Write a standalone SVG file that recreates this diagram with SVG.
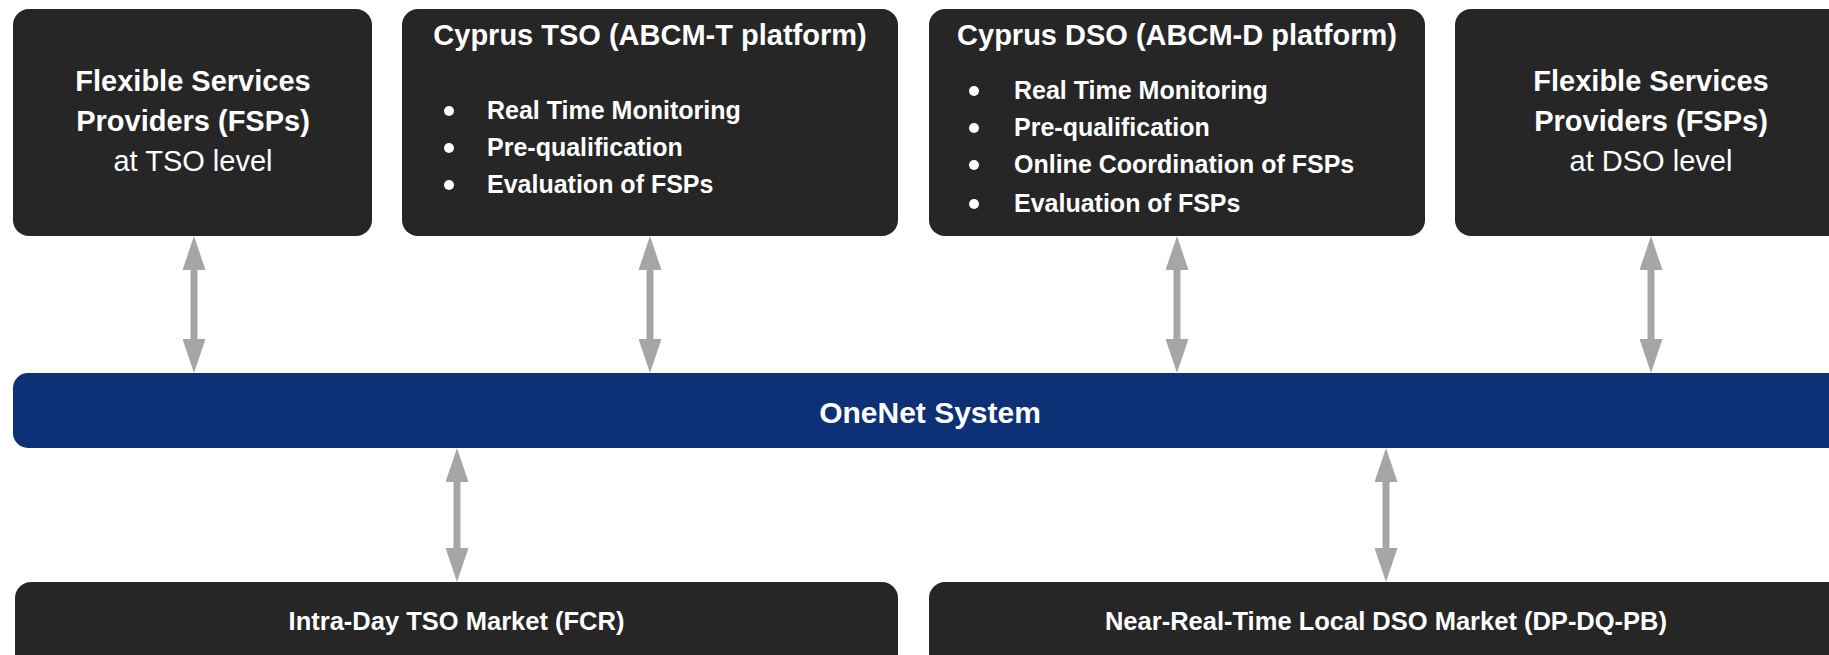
<svg xmlns="http://www.w3.org/2000/svg" width="1829" height="655" viewBox="0 0 1829 655">
<style>
.box{fill:#262626}
.bar{fill:#0D3076}
.t{font-family:"Liberation Sans",Arial,sans-serif;fill:#ffffff;font-weight:bold}
.big{font-size:29px}
.reg{font-weight:normal}
.item{font-size:25px}
.title{font-size:29px}
.bartxt{font-size:30px}
.mkt{font-size:25.5px}
.dot{fill:#ffffff}
.arrow{stroke:#A6A6A6;stroke-width:7;fill:none;marker-start:url(#head);marker-end:url(#head)}
</style>
<defs>
<marker id="head" viewBox="0 0 34 23" refX="0" refY="11.5" markerWidth="34" markerHeight="23" markerUnits="userSpaceOnUse" orient="auto-start-reverse">
<path d="M0,0 L34,11.5 L0,23 z" fill="#A6A6A6"/>
</marker>
</defs>
<rect width="1829" height="655" fill="#ffffff"/>
<g id="fsp-tso">
<rect class="box" x="13" y="9" width="359" height="227" rx="16"/>
<text class="t big" x="193" y="91" text-anchor="middle">Flexible Services</text>
<text class="t big" x="193" y="131" text-anchor="middle">Providers (FSPs)</text>
<text class="t big reg" x="193" y="171" text-anchor="middle">at TSO level</text>
</g>
<g id="cyprus-tso">
<rect class="box" x="402" y="9" width="496" height="227" rx="16"/>
<text class="t title" x="650" y="45" text-anchor="middle">Cyprus TSO (ABCM-T platform)</text>
<circle class="dot" cx="449" cy="111" r="5"/>
<text class="t item" x="487" y="119">Real Time Monitoring</text>
<circle class="dot" cx="449" cy="148" r="5"/>
<text class="t item" x="487" y="156">Pre-qualification</text>
<circle class="dot" cx="449" cy="185" r="5"/>
<text class="t item" x="487" y="193">Evaluation of FSPs</text>
</g>
<g id="cyprus-dso">
<rect class="box" x="929" y="9" width="496" height="227" rx="16"/>
<text class="t title" x="1177" y="45" text-anchor="middle">Cyprus DSO (ABCM-D platform)</text>
<circle class="dot" cx="974" cy="91" r="5"/>
<text class="t item" x="1014" y="99">Real Time Monitoring</text>
<circle class="dot" cx="974" cy="128" r="5"/>
<text class="t item" x="1014" y="136">Pre-qualification</text>
<circle class="dot" cx="974" cy="165" r="5"/>
<text class="t item" x="1014" y="173">Online Coordination of FSPs</text>
<circle class="dot" cx="974" cy="204" r="5"/>
<text class="t item" x="1014" y="212">Evaluation of FSPs</text>
</g>
<g id="fsp-dso">
<rect class="box" x="1455" y="9" width="392" height="227" rx="16"/>
<text class="t big" x="1651" y="91" text-anchor="middle">Flexible Services</text>
<text class="t big" x="1651" y="131" text-anchor="middle">Providers (FSPs)</text>
<text class="t big reg" x="1651" y="171" text-anchor="middle">at DSO level</text>
</g>
<g id="onenet">
<rect class="bar" x="13" y="373" width="1834" height="75" rx="15"/>
<text class="t bartxt" x="930" y="423" text-anchor="middle">OneNet System</text>
</g>
<g id="tso-market">
<rect class="box" x="15" y="582" width="883" height="110" rx="16"/>
<text class="t mkt" x="456.5" y="630" text-anchor="middle">Intra-Day TSO Market (FCR)</text>
</g>
<g id="dso-market">
<rect class="box" x="929" y="582" width="914" height="110" rx="16"/>
<text class="t mkt" x="1386" y="630" text-anchor="middle">Near-Real-Time Local DSO Market (DP-DQ-PB)</text>
</g>
<g id="connectors">
<line class="arrow" x1="194" y1="270" x2="194" y2="339"/>
<line class="arrow" x1="650" y1="270" x2="650" y2="339"/>
<line class="arrow" x1="1177" y1="270" x2="1177" y2="339"/>
<line class="arrow" x1="1651" y1="270" x2="1651" y2="339"/>
<line class="arrow" x1="457" y1="482" x2="457" y2="548"/>
<line class="arrow" x1="1386" y1="482" x2="1386" y2="548"/>
</g>
</svg>
